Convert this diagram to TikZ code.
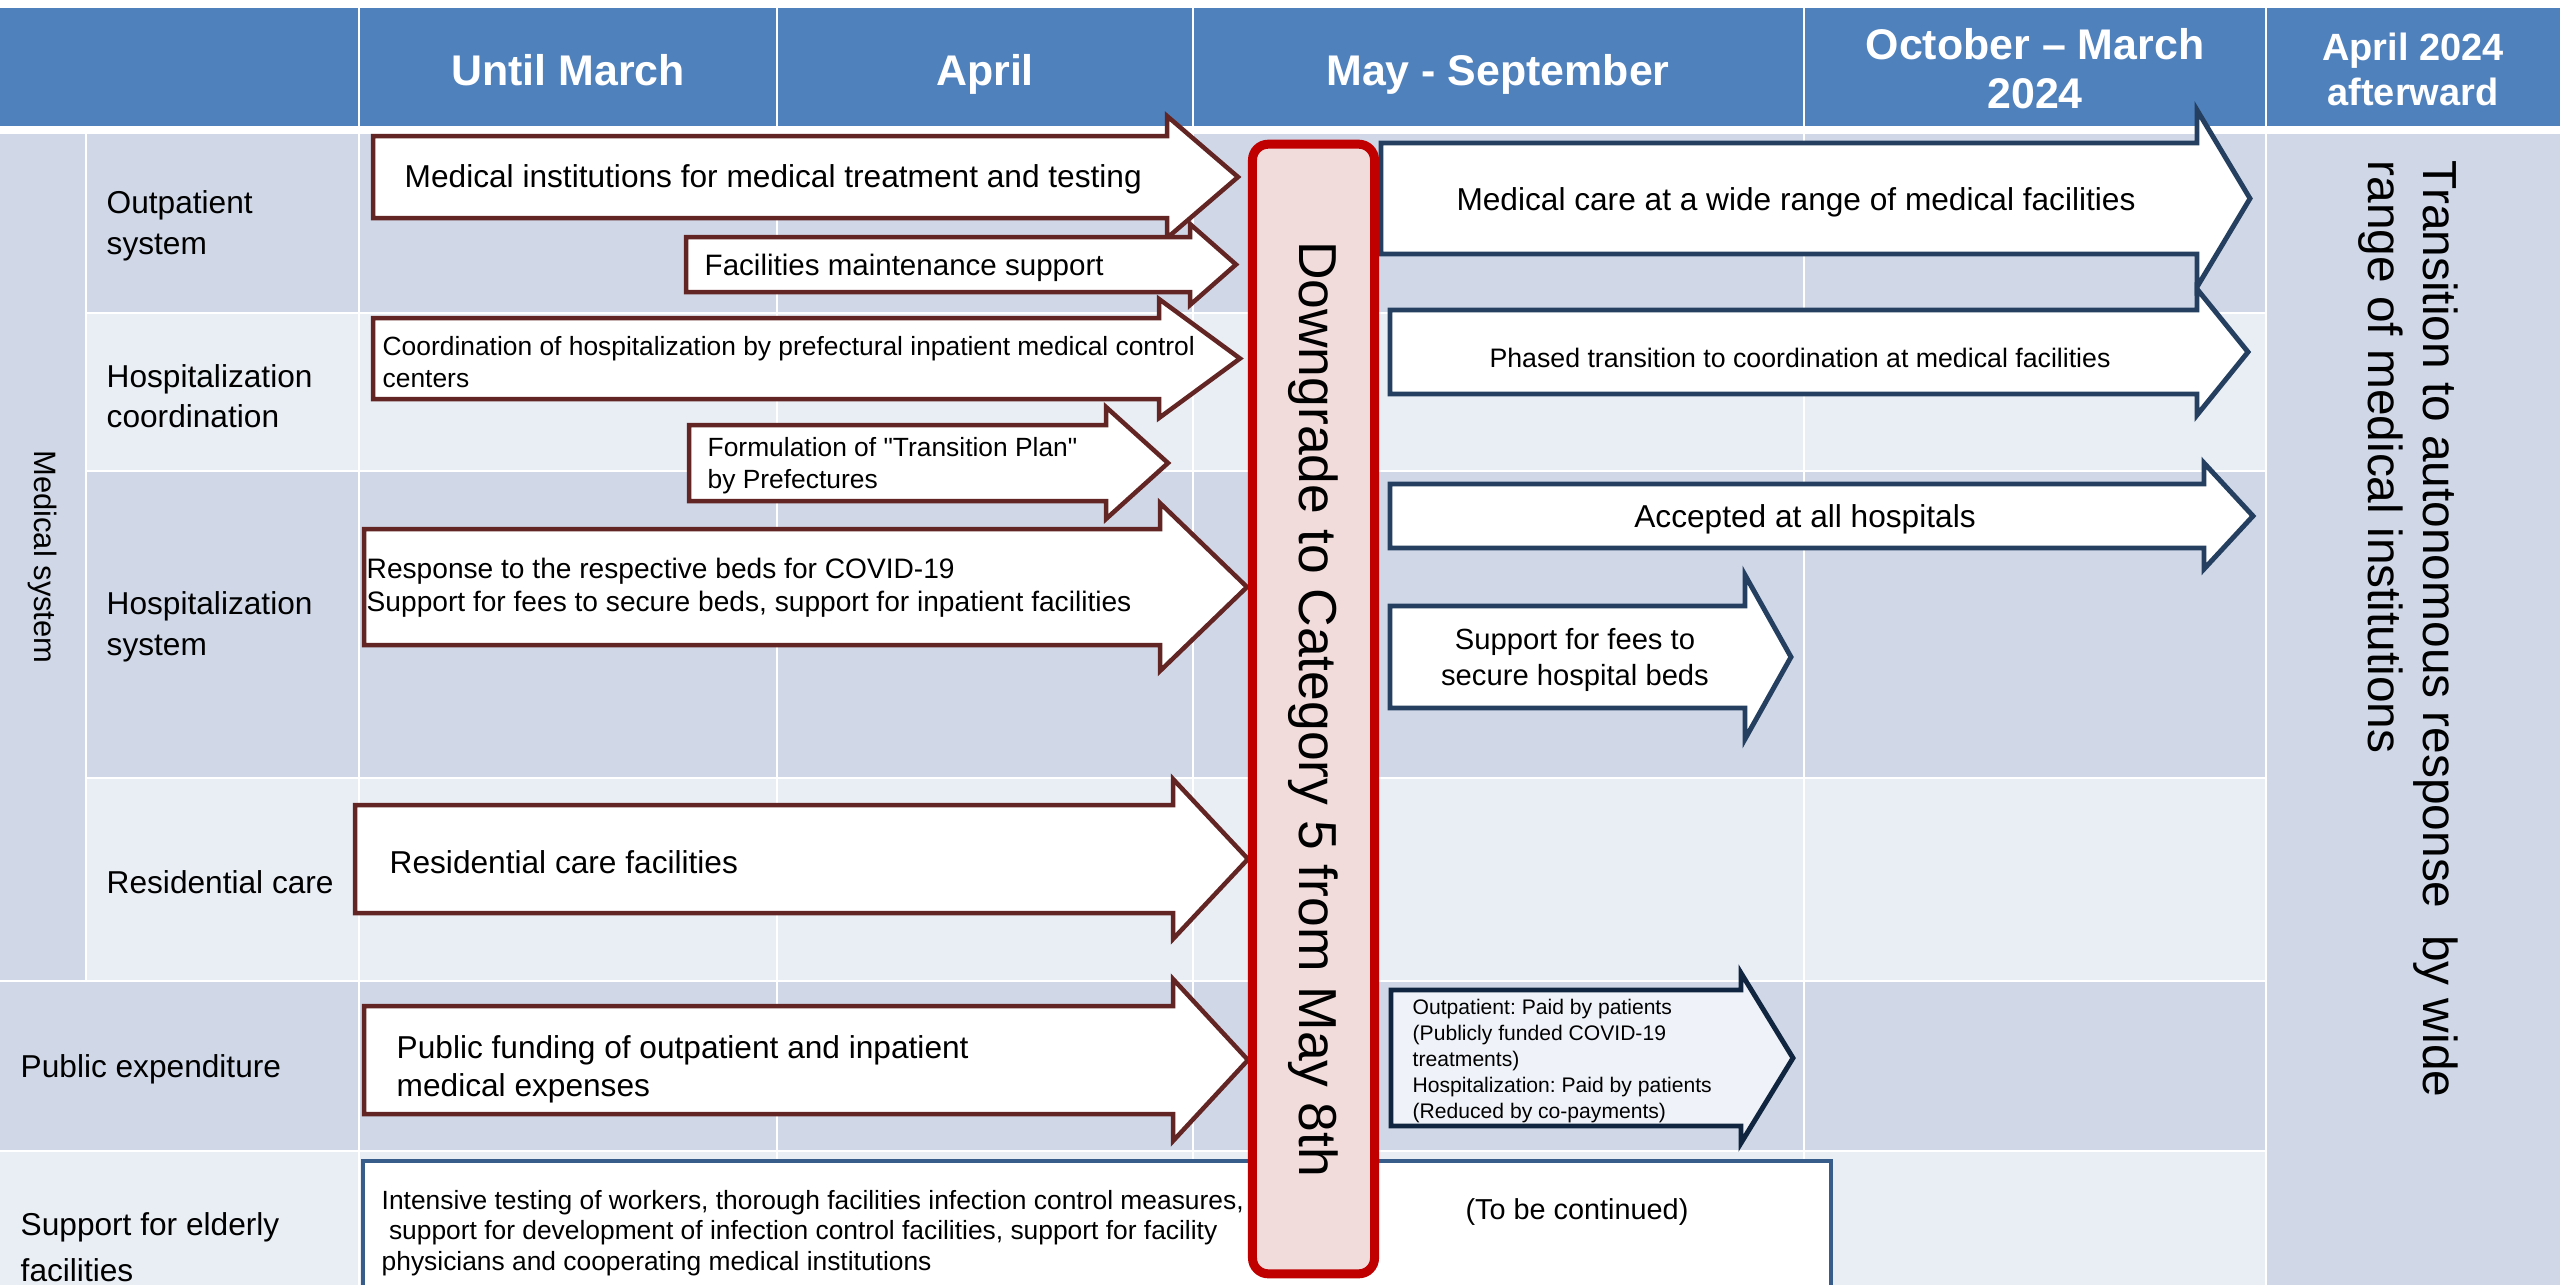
\documentclass[tikz,border=0pt]{standalone}
\usepackage{fontspec}
\setmainfont{Liberation Sans}
\newfontfamily\plainsans{Liberation Sans}
\usetikzlibrary{positioning}
\definecolor{headblue}{HTML}{4F81BD}
\definecolor{celldark}{HTML}{D0D8E8}
\definecolor{celllight}{HTML}{E9EDF4}
\definecolor{arrowred}{HTML}{632523}
\definecolor{arrowblue}{HTML}{243F60}
\definecolor{arrownavy}{HTML}{10253F}
\definecolor{paidfill}{HTML}{EFF2F8}
\definecolor{boxblue}{HTML}{385D8A}
\definecolor{dgred}{HTML}{C00000}
\definecolor{dgpink}{HTML}{F2DCDB}
\newcommand*{\txtsize}[2]{\fontsize{#1}{#2}\selectfont}
\newcommand*{\dq}{{\plainsans"}}
% block arrow: style, left x, body top, body bottom, head x, tip x, head overhang
\newcommand*{\blockarrow}[7]{%
  \draw[#1] (#2,#3) -- (#5,#3) -- (#5,{#3-#7}) -- (#6,{(#3+#4)/2})
    -- (#5,{#4+#7}) -- (#5,#4) -- (#2,#4) -- cycle;}
\frenchspacing

\begin{document}
\begin{tikzpicture} [x=0.01cm, y=-0.01cm,
    grid line/.style={white, line width=0.7pt},
    head text/.style={text=white, inner sep=0, font=\bfseries\txtsize{12.2}{14}},
    row text/.style={inner sep=0, anchor=west, align=left, font=\txtsize{9}{11.5}},
    big text/.style={inner sep=0, anchor=west, align=left, font=\txtsize{9}{10.8}},
    small text/.style={inner sep=0, anchor=west, align=left, font=\txtsize{7.5}{9.3}},
    red arrow/.style={draw=arrowred, fill=white, line width=1.28pt, line join=miter},
    blue arrow/.style={draw=arrowblue, fill=white, line width=1.4pt, line join=miter},
    downgrade box/.style={draw=dgred, fill=dgpink, line width=2.56pt,
        rounded corners=4.5pt, inner sep=0, font=\txtsize{15.2}{18}}
  ]

  \useasboundingbox (0,0) rectangle (2560,1284);
  \clip (0,0) rectangle (2560,1284);

  % table background
  \fill[headblue] (0,8) rectangle (2560,126);
  \foreach \ya/\yb/\c in {134/313/celldark, 313/471/celllight,
      471/778/celldark, 778/981/celllight, 981/1151/celldark,
      1151/1300/celllight}
    \fill[\c] (0,\ya) rectangle (2266,\yb);
  \fill[celldark] (0,134) rectangle (86,981);
  \fill[celldark] (2266,134) rectangle (2560,1300);

  \foreach \y in {313, 471, 778}
    \draw[grid line] (86,\y) -- (2266,\y);
  \foreach \y in {981, 1151}
    \draw[grid line] (0,\y) -- (2266,\y);
  \draw[grid line] (86,134) -- (86,981);
  \foreach \x in {359, 777, 1193, 1804, 2266}
    \draw[grid line] (\x,8) -- (\x,1300);
  \fill[white] (0,126) rectangle (2560,134);

  % header
  \node[head text, anchor=base] (hmar) at (568,85) {Until March};
  \node[head text, anchor=base] (hapr) at (985,85) {April};
  \node[head text, anchor=base] (hmay) at (1498,85) {May - September};
  \node[head text, align=center] (hoct) at (2035,69) {October -- March\\2024};
  \node[head text, align=center,
    font=\bfseries\txtsize{10.8}{12.8}] (hnext) at (2413,69) {April 2024\\afterward};

  % row labels
  \node[inner sep=0, rotate=-90, font=\txtsize{8.8}{10}] (medsys) at (43,557) {Medical system};
  \node[row text] (outp) at (106,226) {Outpatient\\system};
  \node[row text] (hcoord) at (106,396) {Hospitalization\\coordination};
  \node[row text] (hsys) at (106,627) {Hospitalization\\system};
  \node[row text] (resid) at (106,882) {Residential care};
  \node[row text] (pubexp) at (20,1069) {Public expenditure};
  \node[row text, font=\txtsize{9}{13.1}] (elder) at (20,1247) {Support for elderly\\facilities};

  % measures until May
  \blockarrow{red arrow}{373}{136}{218}{1167}{1238}{20}
  \blockarrow{red arrow}{686}{237}{292}{1190}{1236}{13}
  \blockarrow{red arrow}{373}{318}{399}{1159}{1240}{19}
  \blockarrow{red arrow}{689}{425}{501}{1106}{1168}{18}
  \blockarrow{red arrow}{364}{529}{645}{1160}{1247}{26}
  \blockarrow{red arrow}{355}{805}{913}{1173}{1248}{26}
  \blockarrow{red arrow}{364}{1006}{1114}{1173}{1248}{27}

  \node[big text] (medtest) at (404,179) {Medical institutions for medical treatment and testing};
  \node[big text, font=\txtsize{8.4}{10}] (facsup) at (704,268) {Facilities maintenance support};
  \node[small text] (coord) at (382,362) {Coordination of hospitalization by prefectural inpatient medical control\\centers};
  \node[small text, font=\txtsize{7.5}{9.1}] (plan) at (707,466) {Formulation of \dq Transition Plan\dq\\by Prefectures};
  \node[small text, font=\txtsize{8}{9.4}] (beds) at (366,588) {Response to the respective beds for COVID-19\\Support for fees to secure beds, support for inpatient facilities};
  \node[big text] (rescare) at (389,862) {Residential care facilities};
  \node[big text] (pubfund) at (396,1069) {Public funding of outpatient and inpatient\\medical expenses};

  % measures from May
  \blockarrow{blue arrow}{1381}{143}{254}{2197}{2250}{33}
  \blockarrow{blue arrow}{1390}{310}{394}{2197}{2248}{21}
  \blockarrow{blue arrow}{1390}{484}{548}{2204}{2253}{21}
  \blockarrow{blue arrow}{1390}{606}{708}{1745}{1791}{31}
  \blockarrow{blue arrow, draw=arrownavy, fill=paidfill}{1391}{990}{1126}{1741}{1793}{17}

  \node[inner sep=0, font=\txtsize{9}{11}] (widecare) at (1796,202) {Medical care at a wide range of medical facilities};
  \node[inner sep=0, font=\txtsize{7.6}{9}] (phased) at (1800,358) {Phased transition to coordination at medical facilities};
  \node[inner sep=0, font=\txtsize{9}{11}] (allhosp) at (1805,519) {Accepted at all hospitals};
  \node[inner sep=0, align=center, font=\txtsize{8.3}{10}] (feesup) at (1575,660) {Support for fees to\\secure hospital beds};
  \node[small text, font=\txtsize{6}{7.35}] (paid) at (1412,1061) {Outpatient: Paid by patients\\(Publicly funded COVID-19\\treatments)\\Hospitalization: Paid by patients\\(Reduced by co-payments)};

  % elderly facilities
  \draw[draw=boxblue, fill=white, line width=1.4pt] (363,1161) rectangle (1831,1310);
  \node[small text, font=\txtsize{7.5}{8.7}] (elderly) at (381,1233) {Intensive testing of workers, thorough facilities infection control measures,\\\ support for development of infection control facilities, support for facility\\physicians and cooperating medical institutions};
  \node[inner sep=0, font=\txtsize{8.2}{10}] (contd) at (1577,1212) {(To be continued)};

  % downgrade and transition
  \node[downgrade box, rotate=-90, minimum width=11.29cm,
    minimum height=1.22cm] (dg) at (1313.5,709) {Downgrade to Category 5 from May 8th};

  \node[inner sep=0, rotate=-90, anchor=west, align=left,
    font=\txtsize{13.6}{15.6}] (trans) at (2408,160)
    {Transition to autonomous response\ \ by wide\\range of medical institutions};

\end{tikzpicture}
\end{document}
